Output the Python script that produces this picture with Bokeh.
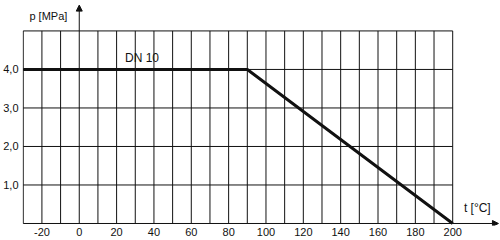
from bokeh.plotting import figure
from bokeh.models import FixedTicker, Range1d, Arrow, NormalHead
from bokeh.core.properties import value
from bokeh.embed import file_html
from bokeh.resources import INLINE

# data
temp = [-30, 90, 200]          # t [°C]
pressure = [4.0, 4.0, 0.0]     # p [MPa]
x_ticks = [-20, 0, 20, 40, 60, 80, 100, 120, 140, 160, 180, 200]
x_labels = ["-20", "0", "20", "40", "60", "80", "100", "120", "140", "160", "180", "200"]
y_ticks = [1, 2, 3, 4]
y_labels = ["1,0", "2,0", "3,0", "4,0"]
grid_x = list(range(-30, 201, 10))
grid_y = [0, 1, 2, 3, 4, 5]
series_label = "DN 10"

FONT = "Liberation Sans"
INK = "#111111"

p = figure(width=500, height=240, output_backend="svg", toolbar_location=None,
           x_range=Range1d(-30.4, 225.6), y_range=Range1d(-0.052, 5.79),
           min_border_left=20, min_border_right=0, min_border_top=0, min_border_bottom=15)
p.outline_line_color = None
p.xgrid.visible = False
p.ygrid.visible = False
p.background_fill_color = "white"

for ax, ticks, labels in ((p.xaxis[0], x_ticks, x_labels), (p.yaxis[0], y_ticks, y_labels)):
    ax.ticker = FixedTicker(ticks=ticks)
    ax.major_label_overrides = {t: l for t, l in zip(ticks, labels)}
    ax.axis_line_color = None
    ax.major_tick_line_color = None
    ax.minor_tick_line_color = None
    ax.major_tick_out = 0
    ax.major_tick_in = 0
    ax.minor_tick_out = 0
    ax.minor_tick_in = 0
    ax.major_label_text_font = FONT
    ax.major_label_text_font_size = "11px"
    ax.major_label_text_color = INK
p.xaxis.major_label_standoff = 2
p.yaxis.major_label_standoff = 4

# grid
gx_min, gx_max = grid_x[0], grid_x[-1]
gy_min, gy_max = grid_y[0], grid_y[-1]
p.segment(x0=grid_x, y0=[gy_min] * len(grid_x), x1=grid_x, y1=[gy_max] * len(grid_x),
          line_color=INK, line_width=1)
p.segment(x0=[gx_min] * len(grid_y), y0=grid_y, x1=[gx_max] * len(grid_y), y1=grid_y,
          line_color=INK, line_width=1)

# axis arrows
p.add_layout(Arrow(x_start=gx_max, y_start=0, x_end=224.5, y_end=0, line_color=INK, line_width=1,
                   end=NormalHead(size=6, fill_color=INK, line_color=INK)))
p.add_layout(Arrow(x_start=0, y_start=gy_max, x_end=0, y_end=5.67, line_color=INK, line_width=1,
                   end=NormalHead(size=6, fill_color=INK, line_color=INK)))

# data line
p.line(temp, pressure, line_color=INK, line_width=3)

# labels
p.text(x=[-26.7], y=[5.4], text=["p [MPa]"], text_font=value(FONT), text_font_size="11px",
       text_color=INK, text_align="left", text_baseline="middle")
p.text(x=[24.5], y=[4.29], text=[series_label], text_font=value(FONT), text_font_size="12px",
       text_color=INK, text_align="left", text_baseline="middle")
p.text(x=[206], y=[0.39], text=["t [°C]"], text_font=value(FONT), text_font_size="12px",
       text_color=INK, text_align="left", text_baseline="middle")

open("out.html", "w").write(file_html(p, INLINE))
